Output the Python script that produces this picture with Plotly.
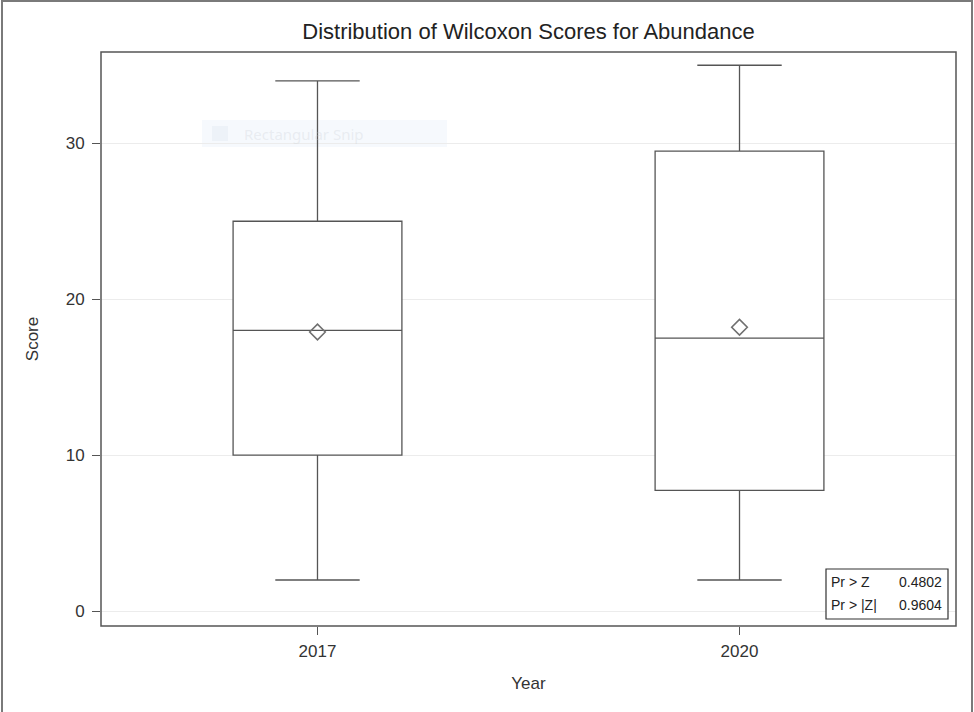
import plotly.graph_objects as go

# Wilcoxon score summary per year
years = ["2017", "2020"]
lower_whisker = [2, 2]
q1 = [10, 7.75]
median = [18, 17.5]
q3 = [25, 29.5]
upper_whisker = [34, 35]
mean_score = [17.9, 18.2]

stat_labels = ["Pr > Z", "Pr > |Z|"]
stat_values = ["0.4802", "0.9604"]

FONT = "Liberation Sans, Arial, sans-serif"
LINE = "#555555"

fig = go.Figure()

fig.add_trace(go.Box(
    x=years,
    q1=q1, median=median, q3=q3,
    lowerfence=lower_whisker, upperfence=upper_whisker,
    width=0.4, whiskerwidth=0.5,
    fillcolor="white",
    line=dict(color=LINE, width=1.3),
    boxpoints=False,
    hoverinfo="skip",
    showlegend=False,
))

fig.add_trace(go.Scatter(
    x=years, y=mean_score, mode="markers",
    marker=dict(symbol="diamond-open", size=12, color="#707070",
                line=dict(width=1.6, color="#707070")),
    showlegend=False,
))

# plot area geometry (pixels) used to place overlay shapes
L, R, T, B = 101, 956, 52, 626
W, H = R - L, B - T


def px(x):
    return (x - L) / W


def py(y):
    return (B - y) / H


shapes = [
    # outer frame around the whole graphic
    dict(type="rect", xref="paper", yref="paper",
         x0=px(2), x1=px(972), y0=py(730), y1=py(1),
         line=dict(color="#7a7a7a", width=2), fillcolor="rgba(0,0,0,0)", layer="above"),
    # plot area frame
    dict(type="rect", xref="paper", yref="paper", x0=0, x1=1, y0=0, y1=1,
         line=dict(color=LINE, width=1.5), fillcolor="rgba(0,0,0,0)", layer="above"),
    # statistics inset
    dict(type="rect", xref="paper", yref="paper",
         x0=px(826), x1=px(948), y0=py(619), y1=py(569),
         line=dict(color="#333333", width=1.2), fillcolor="white", layer="above"),
    # faint overlay strip
    dict(type="rect", xref="paper", yref="paper",
         x0=px(202), x1=px(447), y0=py(147), y1=py(120),
         line=dict(width=0), fillcolor="rgba(225,235,248,0.3)", layer="below"),
    dict(type="rect", xref="paper", yref="paper",
         x0=px(212), x1=px(228), y0=py(141), y1=py(126),
         line=dict(width=0), fillcolor="rgba(215,225,240,0.3)", layer="below"),
]

annotations = [
    dict(text="Rectangular Snip", xref="paper", yref="paper",
         x=px(242), y=py(134), xanchor="left", yanchor="middle", showarrow=False,
         font=dict(family="Noto Sans, sans-serif", size=15, color="rgba(200,205,212,0.3)")),
]
row_y = [582, 605]
for lab, val, yy in zip(stat_labels, stat_values, row_y):
    annotations.append(dict(text=lab, xref="paper", yref="paper", x=px(829), y=py(yy),
                            xanchor="left", yanchor="middle", showarrow=False,
                            font=dict(family=FONT, size=14, color="#222222")))
    annotations.append(dict(text=val, xref="paper", yref="paper", x=px(944), y=py(yy),
                            xanchor="right", yanchor="middle", showarrow=False,
                            font=dict(family=FONT, size=14, color="#222222")))

fig.update_layout(
    width=974, height=712,
    margin=dict(l=L, r=974 - R, t=T, b=712 - B),
    paper_bgcolor="white", plot_bgcolor="white",
    font=dict(family=FONT, color="#333333", size=16),
    title=dict(text="Distribution of Wilcoxon Scores for Abundance",
               x=(L + R) / 2 / 974, xanchor="center",
               y=1 - 31 / 712, yanchor="middle", yref="container",
               font=dict(family=FONT, size=22, color="#222222")),
    xaxis=dict(
        type="category", range=[-0.513, 1.513],
        title=dict(text="Year", font=dict(size=17), standoff=16),
        showgrid=False, zeroline=False, showline=False,
        ticks="outside", ticklen=8, tickcolor=LINE, tickwidth=1.3,
        ticklabelstandoff=2,
        tickfont=dict(size=17, color="#333333"),
    ),
    yaxis=dict(
        range=[-0.95, 35.85], tickvals=[0, 10, 20, 30],
        title=dict(text="Score", font=dict(size=17), standoff=22),
        showgrid=True, gridcolor="#ececec", gridwidth=1,
        zeroline=False, showline=False,
        ticks="outside", ticklen=8, tickcolor=LINE, tickwidth=1.3,
        ticklabelstandoff=4,
        tickfont=dict(size=17, color="#333333"),
    ),
    shapes=shapes,
    annotations=annotations,
)

fig.write_html("out.html")
